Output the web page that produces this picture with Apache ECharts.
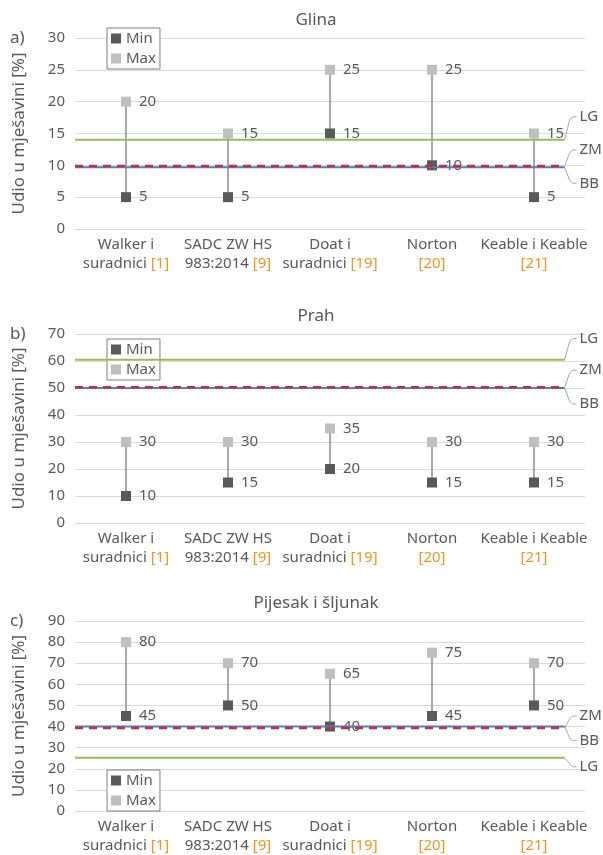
<!DOCTYPE html>
<html><head><meta charset="utf-8">
<script src="https://cdn.jsdelivr.net/npm/echarts@6/dist/echarts.min.js"></script>
<style>html,body{margin:0;padding:0;background:#fff}#c{width:603px;height:855px}</style>
</head><body><div id="c"></div>
<script>
// ---- data ----
const catLine1 = ['Walker i', 'SADC ZW HS', 'Doat i', 'Norton', 'Keable i Keable'];
const catLine2 = ['suradnici', '983:2014', 'suradnici', '', ''];
const catRefs = ['[1]', '[9]', '[19]', '[20]', '[21]'];
const panelTitles = ['Glina', 'Prah', 'Pijesak i šljunak'];
const panelLetters = ['a)', 'b)', 'c)'];
const minGlina = [5, 5, 15, 10, 5];
const maxGlina = [20, 15, 25, 25, 15];
const minPrah = [10, 15, 20, 15, 15];
const maxPrah = [30, 30, 35, 30, 30];
const minPijesak = [45, 50, 40, 45, 50];
const maxPijesak = [80, 70, 65, 75, 70];
const lgValues = [14, 60.5, 25.2];
const zmValues = [9.9, 50.3, 39.3];
const bbValues = [9.7, 50, 40];
const yMaxes = [30, 70, 90];
const yIntervals = [5, 10, 10];
const lineEndX = 4.3;

const minData = [minGlina, minPrah, minPijesak];
const maxData = [maxGlina, maxPrah, maxPijesak];

// ---- layout / style ----
const FONT = 'Noto Sans';
const TXT = '#595959';
const ORANGE = '#f7941d';
const grids = [
  {left: 75, right: 18, top: 38, height: 191},
  {left: 75, right: 18, top: 334, height: 189},
  {left: 75, right: 18, top: 621, height: 192}
];
const legendTops = [28, 339, 770];
// label pixel offsets (relative to the line end) for LG, ZM, BB
const labelOffsets = [
  {LG: -23, ZM: -16, BB: 16},
  {LG: -21, ZM: -17, BB: 16},
  {LG: 9, ZM: -12, BB: 14}
];

const chart = echarts.init(document.getElementById('c'));

const xAxes = [], yAxes = [], series = [], legends = [];
grids.forEach((g, p) => {
  xAxes.push({
    type: 'category', gridIndex: p, data: catLine1,
    axisLine: {show: true, lineStyle: {color: '#d9d9d9'}},
    axisTick: {show: false},
    axisLabel: {
      color: TXT, fontFamily: FONT, fontSize: 15, lineHeight: 19, margin: 6,
      interval: 0,
      formatter: (v, i) => catLine2[i] ? (v + '\n' + catLine2[i] + ' {o|' + catRefs[i] + '}') : (v + '\n{o|' + catRefs[i] + '}'),
      rich: {o: {color: ORANGE, fontFamily: FONT, fontSize: 15, lineHeight: 19}}
    }
  });
  xAxes.push({type: 'value', gridIndex: p, min: -0.5, max: 4.5, show: false});
  yAxes.push({
    type: 'value', gridIndex: p, min: 0, max: yMaxes[p], interval: yIntervals[p],
    name: 'Udio u mješavini [%]', nameLocation: 'middle', nameGap: 47,
    nameTextStyle: {color: TXT, fontFamily: FONT, fontSize: 17},
    axisLine: {show: false}, axisTick: {show: false},
    axisLabel: {color: TXT, fontFamily: FONT, fontSize: 15, margin: 10},
    splitLine: {lineStyle: {color: '#d9d9d9', width: 1}}
  });
  const cx = p * 2, vx = p * 2 + 1;
  series.push({
    type: 'custom', xAxisIndex: cx, yAxisIndex: p, silent: true, z: 2,
    data: catLine1.map((c, i) => [i, minData[p][i], maxData[p][i]]),
    encode: {x: 0, y: [1, 2]},
    renderItem: (params, api) => {
      const a = api.coord([api.value(0), api.value(1)]);
      const b = api.coord([api.value(0), api.value(2)]);
      return {type: 'line', shape: {x1: a[0], y1: a[1], x2: b[0], y2: b[1]},
        style: {stroke: '#8c8c8c', lineWidth: 1.5}};
    }
  });
  const mk = (name, data, color) => ({
    name, type: 'scatter', xAxisIndex: cx, yAxisIndex: p, data,
    symbol: 'rect', symbolSize: 10, z: 3,
    itemStyle: {color, opacity: 1},
    label: {show: true, position: 'right', distance: 8, color: TXT, fontFamily: FONT, fontSize: 15}
  });
  series.push(mk('Min', minData[p], '#595959'));
  series.push(mk('Max', maxData[p], '#bfbfbf'));
  const thr = (v, color, width, type, z) => ({
    type: 'line', xAxisIndex: vx, yAxisIndex: p, silent: true, symbol: 'none', z,
    data: [[-0.5, v], [lineEndX, v]],
    lineStyle: {color, width, type}
  });
  series.push(thr(lgValues[p], '#9bbb59', 2, 'solid', 4));
  series.push(thr(bbValues[p], '#4f81bd', 2, 'solid', 4));
  series.push(thr(zmValues[p], '#c0313d', 2.5, [8, 6], 5));
  legends.push({
    data: ['Min', 'Max'], orient: 'vertical', left: 107, top: legendTops[p],
    itemWidth: 10, itemHeight: 10, itemGap: 5, icon: 'rect',
    padding: [3, 4, 3, 4], borderColor: '#7f7f7f', borderWidth: 1,
    selectedMode: false, backgroundColor: '#fff',
    textStyle: {color: TXT, fontFamily: FONT, fontSize: 15}
  });
});

chart.setOption({
  animation: false,
  textStyle: {fontFamily: FONT},
  grid: grids,
  xAxis: xAxes,
  yAxis: yAxes,
  legend: legends,
  series
});

// annotations: titles, panel letters, threshold labels with brackets
const gfx = [];
grids.forEach((g, p) => {
  gfx.push({type: 'text', style: {text: panelTitles[p], x: 316, y: g.top - 18, textAlign: 'center', textVerticalAlign: 'middle', fill: TXT, font: '17px "' + FONT + '"'}});
  gfx.push({type: 'text', style: {text: panelLetters[p], x: 10, y: g.top, textAlign: 'left', textVerticalAlign: 'middle', fill: TXT, font: '17px "' + FONT + '"'}});
  const items = [['LG', lgValues[p]], ['ZM', zmValues[p]], ['BB', bbValues[p]]];
  items.forEach(([name, v]) => {
    const pt = chart.convertToPixel({xAxisIndex: p * 2 + 1, yAxisIndex: p}, [lineEndX, v]);
    const x0 = pt[0], y0 = pt[1];
    const ly = y0 + labelOffsets[p][name];
    const sgn = ly < y0 ? 1 : -1;
    gfx.push({type: 'polyline', silent: true, shape: {points: [[x0, y0], [x0 + 5, ly + sgn * 3], [x0 + 8, ly], [x0 + 12, ly]]},
      style: {stroke: '#a6a6a6', lineWidth: 1, fill: null}});
    gfx.push({type: 'text', style: {text: name, x: x0 + 15, y: ly, textAlign: 'left', textVerticalAlign: 'middle', fill: TXT, font: '15px "' + FONT + '"'}});
  });
});
chart.setOption({graphic: gfx});
</script></body></html>
